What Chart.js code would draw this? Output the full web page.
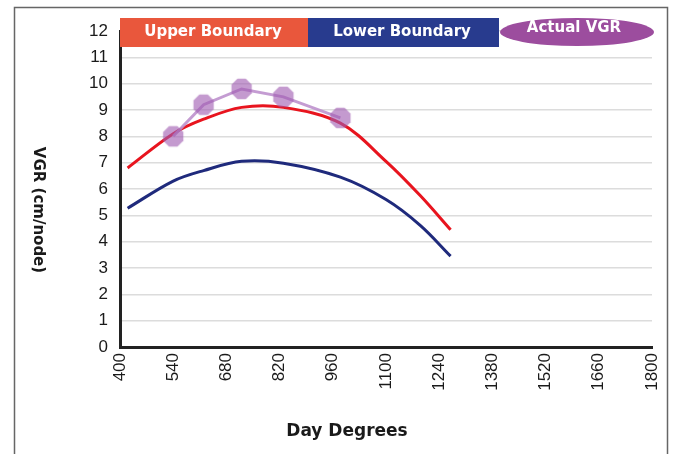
<!DOCTYPE html>
<html>
<head>
<meta charset="utf-8">
<script src="https://cdn.jsdelivr.net/npm/chart.js@4"></script>
<style>
  html, body { margin: 0; padding: 0; background: #fff; }
  #wrap { width: 680px; height: 454px; position: relative; }
</style>
</head>
<body>
<div id="wrap"><canvas id="vgrChart"></canvas></div>
<script>
// values
const dayDegrees = [420, 540, 620, 720, 830, 980, 1100, 1190, 1270];
const upperBoundary = [6.8, 8.1, 8.65, 9.1, 9.1, 8.5, 7.05, 5.75, 4.45];
const lowerBoundary = [5.27, 6.3, 6.7, 7.05, 6.98, 6.45, 5.6, 4.62, 3.45];
const actualDays = [540, 620, 720, 830, 980];
const actualVgr = [8.0, 9.2, 9.8, 9.5, 8.7];
const xTickValues = [400, 540, 680, 820, 960, 1100, 1240, 1380, 1520, 1660, 1800];
const legendLabels = ['Upper Boundary', 'Lower Boundary', 'Actual VGR'];

const toPoints = (xs, ys) => xs.map((x, i) => ({ x: x, y: ys[i] }));

// octagon marker for the actual series
function octagon(r, fill) {
    const c = document.createElement('canvas');
    c.width = c.height = r * 2 + 2;
    const g = c.getContext('2d');
    g.beginPath();
    for (let i = 0; i < 8; i++) {
        const a = Math.PI / 8 + i * Math.PI / 4;
        const px = r + 1 + r * Math.cos(a), py = r + 1 + r * Math.sin(a);
        i ? g.lineTo(px, py) : g.moveTo(px, py);
    }
    g.closePath();
    g.fillStyle = fill;
    g.fill();
    return c;
}

const frameAndLabels = {
    id: 'frameAndLabels',
    beforeDraw(chart) {
        const ctx = chart.ctx;
        ctx.save();
        ctx.fillStyle = '#fff';
        ctx.fillRect(0, 0, chart.width, chart.height);
        ctx.strokeStyle = '#666';
        ctx.lineWidth = 1.5;
        ctx.strokeRect(14.5, 7.5, 653, 470);
        ctx.restore();
    },
    afterDraw(chart) {
        const ctx = chart.ctx;
        ctx.save();
        // axis titles
        ctx.fillStyle = '#1a1a1a';
        ctx.textAlign = 'center';
        ctx.textBaseline = 'middle';
        ctx.font = 'bold 17px "DejaVu Sans"';
        ctx.fillText('Day Degrees', 347, 432);
        ctx.translate(38, 210);
        ctx.rotate(Math.PI / 2);
        ctx.font = 'bold 15px "DejaVu Sans"';
        ctx.fillText('VGR (cm/node)', 0, 0);
        ctx.restore();

        // legend
        ctx.save();
        ctx.fillStyle = '#e9573c';
        ctx.fillRect(120, 18, 188, 29);
        ctx.fillStyle = '#283b8e';
        ctx.fillRect(308, 18, 191, 29);
        ctx.fillStyle = '#9c4d9e';
        ctx.beginPath();
        ctx.ellipse(577, 32, 77, 14, 0, 0, Math.PI * 2);
        ctx.fill();
        ctx.fillStyle = '#fff';
        ctx.textAlign = 'center';
        ctx.textBaseline = 'middle';
        ctx.font = 'bold 15px "DejaVu Sans"';
        ctx.fillText(legendLabels[0], 213, 32);
        ctx.fillText(legendLabels[1], 402, 32);
        ctx.fillText(legendLabels[2], 574, 28);
        ctx.restore();
    }
};

new Chart(document.getElementById('vgrChart'), {
    type: 'line',
    data: {
        datasets: [
            {
                label: legendLabels[2],
                data: toPoints(actualDays, actualVgr),
                borderColor: 'rgba(190,145,205,0.9)',
                borderWidth: 3,
                pointStyle: octagon(11, 'rgba(160,92,178,0.62)'),
                pointRadius: 11,
                tension: 0,
                order: 0
            },
            {
                label: legendLabels[0],
                data: toPoints(dayDegrees, upperBoundary),
                borderColor: '#e8141e',
                borderWidth: 3,
                pointRadius: 0,
                tension: 0.35,
                order: 1
            },
            {
                label: legendLabels[1],
                data: toPoints(dayDegrees, lowerBoundary),
                borderColor: '#1f2a7c',
                borderWidth: 3,
                pointRadius: 0,
                tension: 0.35,
                order: 2
            }
        ]
    },
    options: {
        responsive: true,
        maintainAspectRatio: false,
        animation: false,
        layout: { padding: { top: 31, right: 28, left: 0, bottom: 0 } },
        plugins: { legend: { display: false }, tooltip: { enabled: false } },
        scales: {
            x: {
                type: 'linear',
                min: 400,
                max: 1800,
                afterBuildTicks: (s) => { s.ticks = xTickValues.map(v => ({ value: v })); },
                afterFit: (s) => { s.height = 107; },
                grid: { display: false, drawTicks: false },
                border: { color: '#222', width: 3 },
                ticks: {
                    color: '#1a1a1a',
                    font: { family: '"Liberation Sans"', size: 17 },
                    minRotation: 90,
                    maxRotation: 90,
                    padding: 6,
                    autoSkip: false,
                    callback: (v) => String(v)
                }
            },
            y: {
                min: 0,
                max: 12,
                afterFit: (s) => { s.width = 120; },
                grid: { color: '#dcdcdc', lineWidth: 1.5, drawTicks: false },
                border: { color: '#222', width: 3 },
                ticks: {
                    stepSize: 1,
                    color: '#1a1a1a',
                    font: { family: '"Liberation Sans"', size: 17 },
                    padding: 12
                }
            }
        }
    },
    plugins: [frameAndLabels]
});
</script>
</body>
</html>
